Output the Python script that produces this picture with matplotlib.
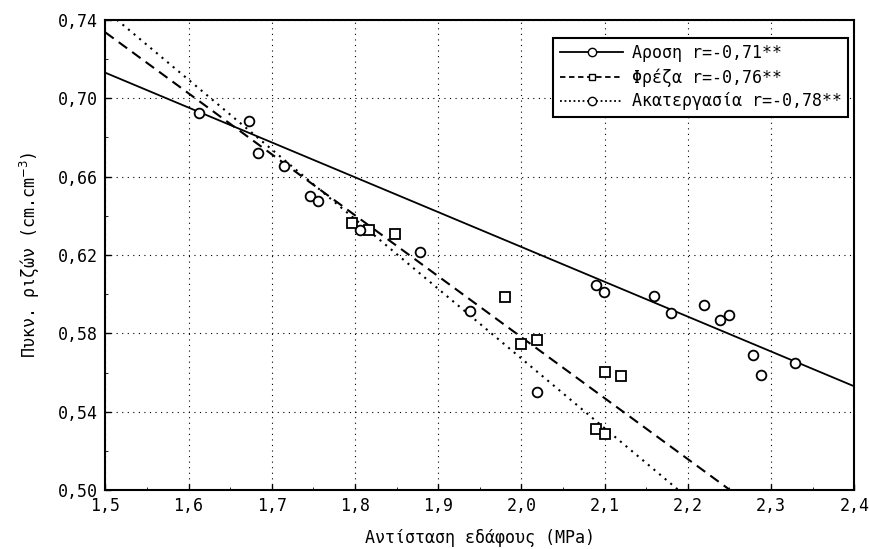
import numpy as np
import matplotlib.pyplot as plt
from matplotlib.ticker import FixedLocator, FuncFormatter

plt.rcParams['font.family'] = ['DejaVu Sans Mono']

# Άροση (circles)
arosi_x = [1.613, 2.090, 2.099, 2.159, 2.180, 2.219, 2.239, 2.249, 2.278, 2.288, 2.329]
arosi_y = [0.6923, 0.6047, 0.6012, 0.5992, 0.5902, 0.5943, 0.5871, 0.5892, 0.5689, 0.5587, 0.5647]
# Φρέζα (squares)
freza_x = [1.797, 1.817, 1.848, 1.980, 2.000, 2.019, 2.090, 2.101, 2.101, 2.120]
freza_y = [0.6362, 0.6327, 0.6307, 0.5984, 0.5744, 0.5766, 0.5310, 0.5289, 0.5604, 0.5582]
# Ακατεργασία (circles)
akat_x = [1.673, 1.684, 1.715, 1.746, 1.756, 1.806, 1.878, 1.938, 2.019]
akat_y = [0.6884, 0.6722, 0.6656, 0.6501, 0.6477, 0.6327, 0.6217, 0.5915, 0.5499]

# regression lines (end points)
fit_arosi_x = [1.5, 2.4]
fit_arosi_y = [0.713, 0.553]
fit_freza_x = [1.5, 2.251]
fit_freza_y = [0.7336, 0.50]
fit_akat_x = [1.514, 2.189]
fit_akat_y = [0.740, 0.50]

labels = ["Αροση r=-0,71**", "Φρέζα r=-0,76**", "Ακατεργασία r=-0,78**"]
xticks = [1.5, 1.6, 1.7, 1.8, 1.9, 2.0, 2.1, 2.2, 2.3, 2.4]
yticks = [0.50, 0.54, 0.58, 0.62, 0.66, 0.70, 0.74]

fig = plt.figure(figsize=(8.7, 5.49), dpi=100)
ax = fig.add_axes([0.121, 0.107, 0.861, 0.857])

ax.plot(fit_arosi_x, fit_arosi_y, color="black", lw=1.3, ls="-")
ax.plot(fit_freza_x, fit_freza_y, color="black", lw=1.5, ls=(0, (5, 3)))
ax.plot(fit_akat_x, fit_akat_y, color="black", lw=1.5, ls=(0, (1, 2.5)))

ax.plot(arosi_x, arosi_y, "o", mfc="white", mec="black", mew=1.3, ms=7)
ax.plot(freza_x, freza_y, "s", mfc="white", mec="black", mew=1.3, ms=7)
ax.plot(akat_x, akat_y, "o", mfc="white", mec="black", mew=1.3, ms=7)

# legend handles: line with marker in middle
h1, = ax.plot([], [], color="black", lw=1.3, ls="-", marker="o", mfc="white", mec="black", ms=6)
h2, = ax.plot([], [], color="black", lw=1.3, ls=(0, (3, 2)), marker="s", mfc="white", mec="black", ms=5)
h3, = ax.plot([], [], color="black", lw=1.3, ls=(0, (1, 1.5)), marker="o", mfc="white", mec="black", ms=6)
leg = ax.legend([h1, h2, h3], labels, loc="upper right", bbox_to_anchor=(0.992, 0.962),
                borderaxespad=0, numpoints=1, fancybox=False, framealpha=1, edgecolor="black",
                fontsize=12, handlelength=3.8, labelspacing=0.35, handletextpad=0.5,
                borderpad=0.4)
leg.get_frame().set_linewidth(1.5)

ax.set_xlim(1.5, 2.4)
ax.set_ylim(0.50, 0.74)
ax.xaxis.set_major_locator(FixedLocator(xticks))
ax.yaxis.set_major_locator(FixedLocator(yticks))
ax.xaxis.set_minor_locator(FixedLocator(np.array(xticks[:-1]) + 0.05))
ax.yaxis.set_minor_locator(FixedLocator(np.array(yticks[:-1]) + 0.02))
ax.xaxis.set_major_formatter(FuncFormatter(lambda v, p: f"{v:.1f}".replace(".", ",")))
ax.yaxis.set_major_formatter(FuncFormatter(lambda v, p: f"{v:.2f}".replace(".", ",")))
ax.tick_params(direction="in", length=4, width=1, labelsize=12, color="black", pad=5)
ax.tick_params(which="minor", direction="in", length=2.5)
ax.grid(True, which="major", color="black", ls=(0, (1, 4)), lw=0.8)
for s in ax.spines.values():
    s.set_linewidth(1.5)

ax.set_xlabel("Αντίσταση εδάφους (MPa)", fontsize=12, labelpad=10)
ax.set_ylabel("Πυκν. ριζών (cm.cm$^{-3}$)", fontsize=12, labelpad=12)

fig.savefig("out.png", dpi=100)
